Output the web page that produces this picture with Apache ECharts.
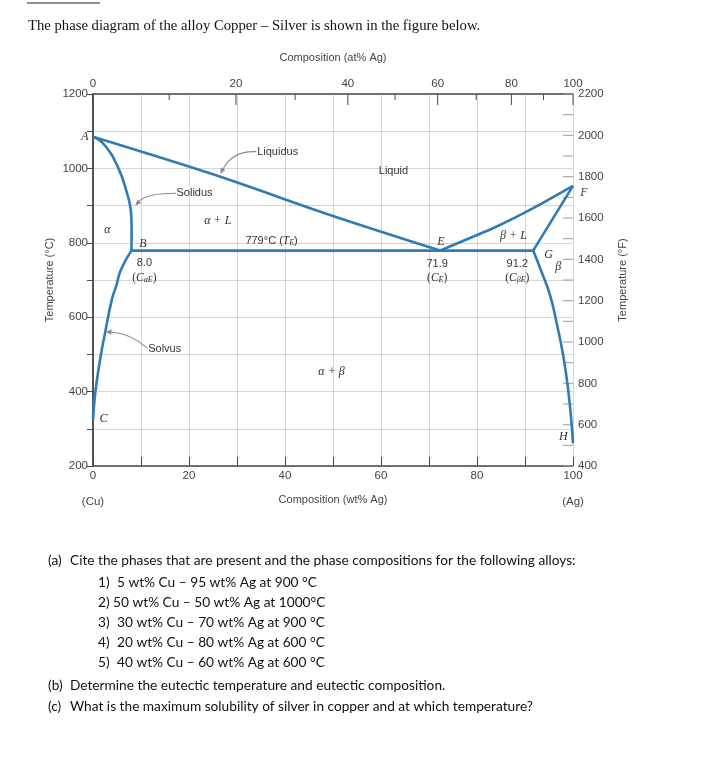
<!DOCTYPE html>
<html><head><meta charset="utf-8">
<script src="https://cdn.jsdelivr.net/npm/echarts@6/dist/echarts.min.js"></script>
<style>html,body{margin:0;padding:0;background:#fff}#c{width:720px;height:767px}</style>
</head><body><div id="c"></div>
<script>
// ---- data (wt% Ag, °C) ----
const liquidusCu = [[0,1085],[25,984],[50,872],[72.3,779]];
const liquidusAg = [[72.3,779],[84,843],[92,895],[100,953]];
const solidusCu  = [[0,1085],[2.4,1063],[5.3,1000],[7.0,937],[7.9,884],[8.05,839],[8.0,779]];
const eutecticIsotherm = [[8.0,779],[91.7,779]];
const solidusAg  = [[91.7,779],[100,953]];
const solvusCu   = [[8.0,779],[5.8,727],[4.9,687],[3.9,646],[2.5,557],[1.46,485],[0.63,413],[0.2,360],[0,324]];
const solvusAg   = [[91.7,779],[93.5,720],[95.2,660],[96.6,584],[98,494],[99,404],[99.7,315],[100,261]];

// ---- tick labels ----
const wtLabels = [0,20,40,60,80,100];
const atMajor = [0,20,40,60,80,100];
const atMinor = [10,30,50,70,90];
const tempCLabels = [200,400,600,800,1000,1200];
const tempFMajor = [400,600,800,1000,1200,1400,1600,1800,2000,2200];
const tempFMinor = [500,700,900,1100,1300,1500,1700,1900,2100];

// ---- annotations (data coordinates) ----
const annotations = [
  {x:-1.7, y:1084, t:'A', k:'ital'},
  {x:34.2, y:1045, t:'Liquidus', k:'sans', a:'left'},
  {x:17.4, y:933,  t:'Solidus', k:'sans', a:'left'},
  {x:26.0, y:859,  t:'α + L', k:'ital'},
  {x:3.0,  y:834,  t:'α', k:'ital'},
  {x:10.4, y:797,  t:'B', k:'ital'},
  {x:37.2, y:806,  t:'{n|779°C (}{i|T}{s|E}{n|)}', k:'rich'},
  {x:10.7, y:746,  t:'8.0', k:'sans'},
  {x:10.7, y:705,  t:'{n|(}{i|C}{s|αE}{n|)}', k:'rich'},
  {x:62.6, y:994,  t:'Liquid', k:'sans'},
  {x:72.5, y:803,  t:'E', k:'ital'},
  {x:87.6, y:819,  t:'β + L', k:'ital'},
  {x:94.9, y:767,  t:'G', k:'ital'},
  {x:96.9, y:736,  t:'β', k:'ital'},
  {x:102.3,y:933,  t:'F', k:'ital'},
  {x:71.7, y:743,  t:'71.9', k:'sans'},
  {x:71.7, y:705,  t:'{n|(}{i|C}{s|E}{n|)}', k:'rich'},
  {x:88.4, y:743,  t:'91.2', k:'sans'},
  {x:88.4, y:705,  t:'{n|(}{i|C}{s|βE}{n|)}', k:'rich'},
  {x:11.5, y:514,  t:'Solvus', k:'sans', a:'left'},
  {x:49.7, y:454,  t:'α + β', k:'ital'},
  {x:2.2,  y:328,  t:'C', k:'ital'},
  {x:98.0, y:279,  t:'H', k:'ital'}
];
const arrows = [
  {s:[34.0,1045], c:[29.2,1048], e:[26.5,985]},
  {s:[17.3,933],  c:[11.2,933],  e:[8.8,900]},
  {s:[11.4,516],  c:[7.7,557],   e:[2.6,561]}
];

function atToWt(a){ const m=a*107.87, n=(100-a)*63.55; return 100*m/(m+n); }
function wtToAt(w){ const m=w/107.87, n=(100-w)/63.55; return 100*m/(m+n); }

const BLUE = '#2f7bb5';
const AX = '#4a4a4a';
const GRID = '#d6d6d6';
const SANS = '"Liberation Sans", Arial, sans-serif';
const SERIF = '"Liberation Serif", "Times New Roman", serif';
const QF = '13.7px Lato, sans-serif';

// tick specs for the top (at%) and right (°F) scales
const topTicks = atMajor.map(function(a){ return {v:atToWt(a), len:11}; })
  .concat(atMinor.map(function(a){ return {v:atToWt(a), len:6}; }));
const rightTicks = tempFMajor.concat(tempFMinor).map(function(f){ return {v:f, len:10}; });

function lineSeries(data, smooth){
  return {type:'line', data:data, xAxisIndex:0, yAxisIndex:0, symbol:'none', smooth:smooth||false,
    lineStyle:{color:BLUE, width:2.6}, z:5, silent:true, clip:false};
}
function qText(x, y, t){
  return {type:'text', x:x, y:y, style:{text:t, font:QF, fill:'#111', verticalAlign:'middle'}};
}

const chart = echarts.init(document.getElementById('c'), null, {renderer:'canvas'});
const option = {
  animation:false,
  backgroundColor:'#fff',
  grid:{left:93, right:147, top:94, bottom:301, containLabel:false, outerBoundsMode:'none'},
  xAxis:[
    {type:'value', min:0, max:100, interval:10, position:'bottom',
      axisLine:{lineStyle:{color:AX, width:1.5}},
      axisTick:{inside:true, length:9, lineStyle:{color:AX}},
      axisLabel:{margin:3, lineHeight:13, color:'#444', fontFamily:SANS, fontSize:11.5,
        formatter:function(v){ if(v===0) return '0\n\n(Cu)'; if(v===100) return '100\n\n(Ag)'; return wtLabels.indexOf(v)>=0? String(v):''; }},
      splitLine:{show:true, lineStyle:{color:GRID, width:1}},
      name:'Composition (wt% Ag)', nameLocation:'middle', nameGap:28, nameMoveOverlap:false,
      nameTextStyle:{color:'#444', fontFamily:SANS, fontSize:11}},
    {type:'value', min:0, max:100, position:'top',
      axisLine:{show:true, lineStyle:{color:AX, width:1.5}},
      axisTick:{show:false},
      axisLabel:{show:true, margin:4, customValues:atMajor.map(atToWt), color:'#444', fontFamily:SANS, fontSize:11.5,
        formatter:function(v){ return String(Math.round(wtToAt(v))); }},
      splitLine:{show:false},
      name:'Composition (at% Ag)', nameLocation:'middle', nameGap:31, nameMoveOverlap:false,
      nameTextStyle:{color:'#444', fontFamily:SANS, fontSize:11}}
  ],
  yAxis:[
    {type:'value', min:200, max:1200, interval:100, position:'left',
      axisLine:{show:true, lineStyle:{color:AX, width:1.5}},
      axisTick:{show:true, inside:false, length:6, lineStyle:{color:AX}},
      axisLabel:{margin:5, color:'#444', fontFamily:SANS, fontSize:11.5,
        formatter:function(v){ return tempCLabels.indexOf(v)>=0 ? String(v) : ''; }},
      splitLine:{show:true, lineStyle:{color:GRID, width:1}},
      name:'Temperature (°C)', nameLocation:'middle', nameRotate:90, nameGap:38, nameMoveOverlap:false,
      nameTextStyle:{color:'#444', fontFamily:SANS, fontSize:11}},
    {type:'value', min:400, max:2200, position:'right',
      axisLine:{show:true, lineStyle:{color:AX, width:1.5}},
      axisTick:{show:false},
      axisLabel:{show:true, margin:5, customValues:tempFMajor, color:'#444', fontFamily:SANS, fontSize:11.5,
        formatter:function(v){ return String(v); }},
      splitLine:{show:false},
      name:'Temperature (°F)', nameLocation:'middle', nameRotate:90, nameGap:44, nameMoveOverlap:false,
      nameTextStyle:{color:'#444', fontFamily:SANS, fontSize:11}}
  ],
  series:[
    lineSeries(liquidusCu, 0.3),
    lineSeries(liquidusAg, 0.2),
    lineSeries(solidusCu, 0.5),
    lineSeries(eutecticIsotherm, false),
    lineSeries(solidusAg, false),
    lineSeries(solvusCu, 0.5),
    lineSeries(solvusAg, 0.5),
    // top at% ticks
    {type:'custom', xAxisIndex:0, yAxisIndex:0, clip:false, silent:true, z:4,
      data: topTicks.map(function(t,i){ return [t.v, 1200, i]; }),
      renderItem:function(params, api){
        const t = topTicks[params.dataIndex];
        const p = api.coord([t.v, 1200]);
        return {type:'line', shape:{x1:p[0], y1:p[1], x2:p[0], y2:p[1]+t.len}, style:{stroke:AX, lineWidth:1}};
      }},
    // right °F ticks
    {type:'custom', xAxisIndex:0, yAxisIndex:1, clip:false, silent:true, z:4,
      data: rightTicks.map(function(t,i){ return [100, t.v, i]; }),
      renderItem:function(params, api){
        const t = rightTicks[params.dataIndex];
        const p = api.coord([100, t.v]);
        return {type:'line', shape:{x1:p[0]-t.len, y1:p[1], x2:p[0], y2:p[1]}, style:{stroke:'#9a9a9a', lineWidth:1}};
      }},
    {type:'custom', xAxisIndex:0, yAxisIndex:0, clip:false, silent:true, z:6,
      data: arrows.map(function(a,i){ return [a.e[0], a.e[1], i]; }),
      renderItem:function(params, api){
        const a = arrows[params.dataIndex];
        const s = api.coord(a.s), c = api.coord(a.c), e = api.coord(a.e);
        const dx = e[0]-c[0], dy = e[1]-c[1], L = Math.sqrt(dx*dx+dy*dy)||1;
        const ux = dx/L, uy = dy/L, hl = 6, hw = 2.6;
        const bx = e[0]-ux*hl, by = e[1]-uy*hl;
        return {type:'group', children:[
          {type:'bezierCurve', shape:{x1:s[0], y1:s[1], cpx1:c[0], cpy1:c[1], x2:bx, y2:by},
            style:{stroke:'#8a8a8a', lineWidth:1.1, fill:null}},
          {type:'polygon', shape:{points:[[e[0],e[1]],[bx-uy*hw,by+ux*hw],[bx+uy*hw,by-ux*hw]]},
            style:{fill:'#8a8a8a'}}
        ]};
      }},
    {type:'custom', xAxisIndex:0, yAxisIndex:0, clip:false, silent:true, z:7,
      data: annotations.map(function(a,i){ return [a.x, a.y, i]; }),
      renderItem:function(params, api){
        const a = annotations[params.dataIndex];
        const p = api.coord([a.x, a.y]);
        let font = '11px ' + SANS;
        if (a.k==='ital') font = 'italic 12px ' + SERIF;
        const style = {text:a.t, x:0, y:0, fill:'#333', font:font, align:a.a||'center', verticalAlign:'middle'};
        if (a.k==='rich') {
          const isTemp = a.t.indexOf('779')>=0;
          style.font = isTemp ? ('11px ' + SANS) : ('italic 11.5px ' + SERIF);
          style.rich = {
            n:{font: isTemp ? ('11px '+SANS) : ('11.5px '+SERIF), fill:'#333'},
            i:{font:'italic 11.5px '+SERIF, fill:'#333'},
            s:{font:'italic 8px '+SERIF, fill:'#333', verticalAlign:'bottom', padding:[4,0,0,0]}
          };
        }
        return {type:'text', x:p[0], y:p[1], style:style};
      }}
  ],
  graphic:[
    {type:'text', x:27, y:-5, style:{text:'Question 2:', font:'bold 13px '+SERIF, fill:'#111', verticalAlign:'middle'}},
    {type:'line', shape:{x1:27, y1:3, x2:100, y2:3}, style:{stroke:'#222', lineWidth:1}},
    {type:'text', x:28, y:26, style:{text:'The phase diagram of the alloy Copper – Silver is shown in the figure below.', font:'14.7px '+SERIF, fill:'#111', verticalAlign:'middle'}},
    qText(48, 561, '(a)'),
    qText(70, 561, 'Cite the phases that are present and the phase compositions for the following alloys:'),
    qText(98, 583, '1)'),
    qText(117, 583, '5 wt% Cu – 95 wt% Ag at 900 °C'),
    qText(98, 603, '2) 50 wt% Cu – 50 wt% Ag at 1000°C'),
    qText(98, 623, '3)'),
    qText(117, 623, '30 wt% Cu – 70 wt% Ag at 900 °C'),
    qText(98, 643, '4)'),
    qText(117, 643, '20 wt% Cu – 80 wt% Ag at 600 °C'),
    qText(98, 663, '5)'),
    qText(117, 663, '40 wt% Cu – 60 wt% Ag at 600 °C'),
    qText(48, 686, '(b)'),
    qText(70, 686, 'Determine the eutectic temperature and eutectic composition.'),
    qText(48, 707, '(c)'),
    qText(70, 707, 'What is the maximum solubility of silver in copper and at which temperature?')
  ]
};
chart.setOption(option);
</script>
</body></html>
